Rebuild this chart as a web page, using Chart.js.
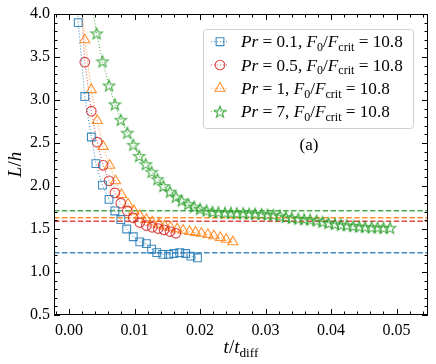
<!DOCTYPE html>
<html>
<head>
<meta charset="utf-8">
<script src="https://cdn.jsdelivr.net/npm/chart.js@4.4.1/dist/chart.umd.min.js"></script>
<style>
    html, body { margin: 0; padding: 0; background: #fff; }
</style>
</head>
<body>
<canvas id="chart" width="436" height="364"></canvas>
<script>
// Pr = 0.1
const tPr01 = [0.0004, 0.0014, 0.0024, 0.0034, 0.0041, 0.0051, 0.0061, 0.0070, 0.0079, 0.0088, 0.0098, 0.0108,
               0.0118, 0.0126, 0.0134, 0.0143, 0.0152, 0.0160, 0.0169, 0.0178, 0.0186, 0.0196];
const lPr01 = [5.20, 3.90, 3.04, 2.57, 2.26, 2.01, 1.845, 1.71, 1.61, 1.50, 1.41, 1.35,
               1.33, 1.265, 1.225, 1.205, 1.205, 1.215, 1.225, 1.215, 1.185, 1.165];

// Pr = 0.5
const tPr05 = [0.0015, 0.0024, 0.0034, 0.0043, 0.0052, 0.0061, 0.0070, 0.0079, 0.0089, 0.0098, 0.0108,
               0.0118, 0.0127, 0.0136, 0.0145, 0.0154, 0.0163];
const lPr05 = [4.55, 3.44, 2.87, 2.51, 2.24, 2.06, 1.92, 1.80, 1.71, 1.63, 1.575,
               1.54, 1.52, 1.505, 1.49, 1.47, 1.45];

// Pr = 1
const tPr1 = [0.0015, 0.0024, 0.0034, 0.0043, 0.0052, 0.0062, 0.0071, 0.0080, 0.0090, 0.0099, 0.0108, 0.0118, 0.0127,
              0.0137, 0.0146, 0.0155, 0.0165, 0.0174, 0.0184, 0.0193, 0.0202, 0.0212, 0.0221, 0.0231, 0.0240, 0.0250];
const lPr1 = [4.50, 3.70, 3.12, 2.76, 2.46, 2.24, 2.06, 1.90, 1.79, 1.71, 1.655, 1.61, 1.58,
              1.555, 1.535, 1.52, 1.50, 1.485, 1.47, 1.46, 1.45, 1.435, 1.42, 1.40, 1.38, 1.35];

// Pr = 7
const tPr7 = [0.0033, 0.0042, 0.0051, 0.0061, 0.0070, 0.0079, 0.0089, 0.0098, 0.0107, 0.0117, 0.0126,
              0.0135, 0.0144, 0.0154, 0.0163, 0.0172, 0.0182, 0.0191, 0.0200, 0.0210, 0.0219,
              0.0228, 0.0238, 0.0247, 0.0256, 0.0266, 0.0275, 0.0284, 0.0294, 0.0303, 0.0312,
              0.0322, 0.0331, 0.0340, 0.0350, 0.0359, 0.0368, 0.0378, 0.0387, 0.0396, 0.0406,
              0.0415, 0.0424, 0.0434, 0.0443, 0.0452, 0.0462, 0.0471, 0.0480, 0.0490];
const lPr7 = [4.20, 3.775, 3.45, 3.17, 2.95, 2.77, 2.62, 2.48, 2.35, 2.255, 2.165,
              2.08, 2.00, 1.935, 1.875, 1.83, 1.79, 1.76, 1.735, 1.715, 1.70,
              1.695, 1.69, 1.69, 1.685, 1.685, 1.68, 1.68, 1.675, 1.67, 1.665,
              1.655, 1.64, 1.63, 1.62, 1.615, 1.61, 1.60, 1.585, 1.57, 1.56,
              1.55, 1.545, 1.535, 1.53, 1.525, 1.52, 1.52, 1.515, 1.515];

// asymptotic L/h (dashed lines): Pr = 0.1, 0.5, 1, 7
const plateaus = [1.224, 1.589, 1.631, 1.713];

const xTicks = [0.00, 0.01, 0.02, 0.03, 0.04, 0.05];
const yTicks = [0.5, 1.0, 1.5, 2.0, 2.5, 3.0, 3.5, 4.0];
const X_MIN = -0.0023, X_MAX = 0.0548, Y_MIN = 0.5, Y_MAX = 4.0;

const FONT = '"Liberation Serif", "DejaVu Serif", serif';
const COLORS = ['rgba(31,119,180,0.85)', 'rgba(214,39,40,0.85)', 'rgba(255,127,14,0.85)', 'rgba(44,160,44,0.85)'];

const legendLabels = [
    [['Pr', 'i'], [' = 0.1, ', 'r'], ['F', 'i'], ['0', 's'], ['/', 'r'], ['F', 'i'], ['crit', 's'], [' = 10.8', 'r']],
    [['Pr', 'i'], [' = 0.5, ', 'r'], ['F', 'i'], ['0', 's'], ['/', 'r'], ['F', 'i'], ['crit', 's'], [' = 10.8', 'r']],
    [['Pr', 'i'], [' = 1, ', 'r'], ['F', 'i'], ['0', 's'], ['/', 'r'], ['F', 'i'], ['crit', 's'], [' = 10.8', 'r']],
    [['Pr', 'i'], [' = 7, ', 'r'], ['F', 'i'], ['0', 's'], ['/', 'r'], ['F', 'i'], ['crit', 's'], [' = 10.8', 'r']],
];

function toPoints(xs, ys)
{
    return xs.map((x, i) => ({x: x, y: ys[i]}));
}

// matplotlib-like hollow 5 point star
function makeStar(color, r)
{
    const c = document.createElement('canvas');
    const s = Math.ceil(r * 2 + 4);
    c.width = s; c.height = s;
    const g = c.getContext('2d');
    g.translate(s / 2, s / 2 + 0.6);
    g.beginPath();
    for (let i = 0; i < 10; i++) {
        const rad = i % 2 ? r * 0.42 : r;
        const a = -Math.PI / 2 + i * Math.PI / 5;
        g.lineTo(rad * Math.cos(a), rad * Math.sin(a));
    }
    g.closePath();
    g.strokeStyle = color;
    g.lineWidth = 1.2;
    g.stroke();
    return c;
}

function drawMath(ctx, parts, x, y, size, align)
{
    const fontFor = st => st === 'i' ? `italic ${size}px ${FONT}` : (st === 's' ? `${size * 0.7}px ${FONT}` : `${size}px ${FONT}`);
    let total = 0;
    parts.forEach(([txt, st]) => { ctx.font = fontFor(st); total += ctx.measureText(txt).width; });
    if (align === 'center') x -= total / 2;
    ctx.textAlign = 'left';
    ctx.textBaseline = 'alphabetic';
    parts.forEach(([txt, st]) => {
        ctx.font = fontFor(st);
        ctx.fillText(txt, x, st === 's' ? y + size * 0.22 : y);
        x += ctx.measureText(txt).width;
    });
}

// frame with inward major/minor ticks on all four sides, axis titles and the legend
const framePlugin = {
    id: 'frame',
    afterDatasetsDraw(chart)
    {
        const {ctx, chartArea: a, scales: {x, y}} = chart;
        ctx.save();
        ctx.strokeStyle = '#000';
        ctx.lineWidth = 1;
        ctx.strokeRect(a.left + 0.5, a.top + 0.5, a.right - a.left - 1, a.bottom - a.top - 1);
        ctx.beginPath();
        for (let k = -1; k <= 27; k++) {
            const px = Math.round(x.getPixelForValue(k * 0.002)) + 0.5;
            if (px < a.left || px > a.right) continue;
            const len = k % 5 === 0 ? 6 : 3.5;
            ctx.moveTo(px, a.bottom); ctx.lineTo(px, a.bottom - len);
            ctx.moveTo(px, a.top); ctx.lineTo(px, a.top + len);
        }
        for (let k = 5; k <= 40; k++) {
            const py = Math.round(y.getPixelForValue(k * 0.1)) + 0.5;
            const len = k % 5 === 0 ? 6 : 3.5;
            ctx.moveTo(a.left, py); ctx.lineTo(a.left + len, py);
            ctx.moveTo(a.right, py); ctx.lineTo(a.right - len, py);
        }
        ctx.stroke();

        ctx.fillStyle = '#000';
        drawMath(ctx, [['t', 'i'], ['/', 'r'], ['t', 'i'], ['diff', 's']], (a.left + a.right) / 2, 353, 19, 'center');
        ctx.translate(21, (a.top + a.bottom) / 2);
        ctx.rotate(-Math.PI / 2);
        drawMath(ctx, [['L', 'i'], ['/', 'r'], ['h', 'i']], 0, 0, 19, 'center');
        ctx.restore();
    },
    afterDraw(chart)
    {
        const {ctx, chartArea: a} = chart;
        const boxW = 210, boxH = 99;
        const bx = a.right - 15 - boxW, by = a.top + 15;
        ctx.save();
        ctx.beginPath();
        ctx.roundRect(bx + 0.5, by + 0.5, boxW, boxH, 3);
        ctx.fillStyle = 'rgba(255,255,255,0.8)';
        ctx.fill();
        ctx.strokeStyle = '#d0d0d0';
        ctx.lineWidth = 1;
        ctx.stroke();
        for (let i = 0; i < 4; i++) {
            const ds = chart.data.datasets[i];
            const ry = by + 12.7 + i * 23.3;
            ctx.setLineDash(ds.borderDash);
            ctx.strokeStyle = ds.borderColor;
            ctx.lineWidth = 1;
            ctx.beginPath();
            ctx.moveTo(bx + 8, ry); ctx.lineTo(bx + 26, ry);
            ctx.stroke();
            ctx.setLineDash([]);
            ctx.fillStyle = 'rgba(0,0,0,0)';
            ctx.lineWidth = ds.pointBorderWidth;
            Chart.helpers.drawPoint(ctx, {pointStyle: ds.pointStyle, radius: ds.pointRadius, borderWidth: ds.pointBorderWidth, rotation: 0}, bx + 17, ry);
            ctx.fillStyle = '#000';
            drawMath(ctx, legendLabels[i], bx + 38, ry + 5.5, 17.2);
        }
        ctx.font = `17px ${FONT}`;
        ctx.textAlign = 'center';
        ctx.fillText('(a)', bx + 106, by + 121);
        ctx.restore();
    }
};

function series(xs, ys, color, style, radius)
{
    return {
        data: toPoints(xs, ys),
        borderColor: color,
        borderWidth: 1,
        borderDash: [1, 2],
        pointStyle: style,
        pointRadius: radius,
        pointHoverRadius: radius,
        pointBorderWidth: 1.1,
        pointBorderColor: color,
        pointBackgroundColor: 'rgba(0,0,0,0)',
        fill: false,
        tension: 0,
        order: 1,
    };
}

function plateau(value, color)
{
    return {
        data: toPoints([X_MIN, X_MAX], [value, value]),
        borderColor: color,
        borderWidth: 1.5,
        borderDash: [5.5, 2.4],
        pointRadius: 0,
        fill: false,
        order: 2,
    };
}

Chart.defaults.font.family = FONT;
Chart.defaults.font.size = 16;
Chart.defaults.color = '#000';
Chart.defaults.animation = false;

new Chart(document.getElementById('chart'), {
    type: 'line',
    data: {
        datasets: [
            series(tPr01, lPr01, COLORS[0], 'rect', 5.5),
            series(tPr05, lPr05, COLORS[1], 'circle', 4.8),
            series(tPr1, lPr1, COLORS[2], 'triangle', 5.8),
            series(tPr7, lPr7, COLORS[3], makeStar(COLORS[3], 6), 6),
            plateau(plateaus[0], COLORS[0]),
            plateau(plateaus[1], COLORS[1]),
            plateau(plateaus[2], COLORS[2]),
            plateau(plateaus[3], COLORS[3]),
        ]
    },
    options: {
        responsive: false,
        layout: {padding: {top: 14, right: 8, left: 0, bottom: 0}},
        scales: {
            x: {
                type: 'linear',
                min: X_MIN,
                max: X_MAX,
                grid: {display: false, drawTicks: false},
                border: {display: false},
                ticks: {padding: 6, maxRotation: 0, autoSkip: false, callback: v => v.toFixed(2)},
                afterBuildTicks: s => { s.ticks = xTicks.map(v => ({value: v})); },
                afterFit: s => { s.height = 49; },
            },
            y: {
                type: 'linear',
                min: Y_MIN,
                max: Y_MAX,
                grid: {display: false, drawTicks: false},
                border: {display: false},
                ticks: {padding: 4, autoSkip: false, callback: v => v.toFixed(1)},
                afterBuildTicks: s => { s.ticks = yTicks.map(v => ({value: v})); },
                afterFit: s => { s.width = 54; },
            }
        },
        plugins: {
            legend: {display: false},
            tooltip: {enabled: false},
        }
    },
    plugins: [framePlugin]
});
</script>
</body>
</html>
